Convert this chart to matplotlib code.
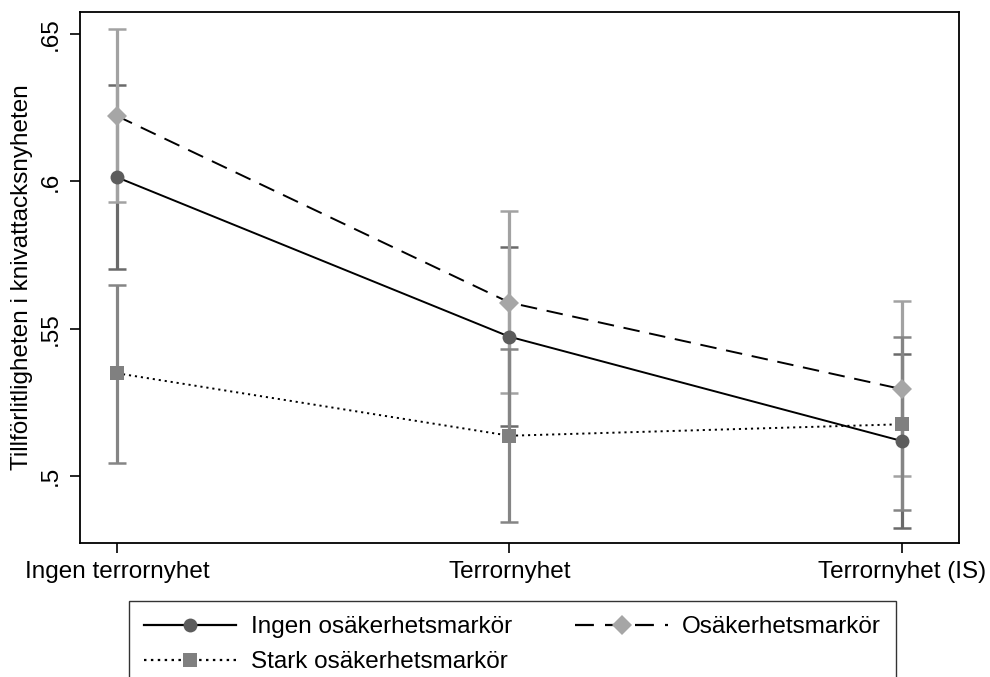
import matplotlib
matplotlib.use("Agg")
import matplotlib.pyplot as plt
from matplotlib.lines import Line2D

plt.rcParams['font.family'] = ['Liberation Sans', 'DejaVu Sans']

categories = ["Ingen terrornyhet", "Terrornyhet", "Terrornyhet (IS)"]
series_names = ["Ingen osäkerhetsmarkör", "Osäkerhetsmarkör", "Stark osäkerhetsmarkör"]
ingen = [0.6014, 0.5473, 0.5119]
ingen_lo = [0.5702, 0.5170, 0.4824]
ingen_hi = [0.6327, 0.5776, 0.5414]
osak = [0.6222, 0.5589, 0.5295]
osak_lo = [0.5931, 0.5281, 0.5001]
osak_hi = [0.6516, 0.5900, 0.5593]
stark = [0.5349, 0.5137, 0.5176]
stark_lo = [0.5046, 0.4843, 0.4884]
stark_hi = [0.5648, 0.5431, 0.5471]

fig = plt.figure(figsize=(9.9, 6.77), dpi=100)
ax = fig.add_axes([80/990, 1-543/677, (959-80)/990, (543-12)/677])

x = list(range(len(categories)))
styles = [
    (ingen, ingen_lo, ingen_hi, '-', 'o', '#5c5c5c', '#6a6a6a', 10),
    (osak, osak_lo, osak_hi, (0, (8.5, 5)), 'D', '#a6a6a6', '#a2a2a2', 10.5),
    (stark, stark_lo, stark_hi, (0, (1.1, 2.0)), 's', '#808080', '#858585', 10),
]
handles = []
for i, (v, lo, hi, ls, mk, mc, ec, ms) in enumerate(styles):
    yerr = [[a - b for a, b in zip(v, lo)], [b - a for a, b in zip(v, hi)]]
    ax.errorbar(x, v, yerr=yerr, fmt='none', ecolor=ec, elinewidth=2.3,
                capsize=6.5, capthick=1.8, zorder=1 + i)
    ax.plot(x, v, linestyle=ls, color='black', linewidth=1.4, zorder=5)
    ax.plot(x, v, linestyle='none', marker=mk, markersize=ms, color=mc,
            markeredgewidth=0, zorder=6)
    handles.append(Line2D([], [], linestyle=ls, color='black', linewidth=1.6,
                          marker=mk, markersize=ms, markerfacecolor=mc,
                          markeredgewidth=0))

ax.set_xlim(-0.0944, 2.1454)
ax.set_ylim(0.4773, 0.6575)
ax.set_xticks(x)
ax.set_xticklabels(categories, fontsize=17.5)
ax.set_yticks([0.5, 0.55, 0.6, 0.65])
ax.set_yticklabels([".5", ".55", ".6", ".65"], fontsize=17.5, rotation=90, va='center')
ax.set_ylabel("Tillförlitligheten i knivattacksnyheten", fontsize=17.5)
ax.yaxis.set_label_coords(-47/879, 0.5)
ax.tick_params(axis='both', direction='out', length=7, width=1.2, pad=6)
for sp in ax.spines.values():
    sp.set_linewidth(1.3)

leg = fig.legend([handles[0], handles[2], handles[1]],
                 [series_names[0], series_names[2], series_names[1]],
                 ncol=2, loc='upper left', bbox_to_anchor=(129/990, 1-601/677),
                 fontsize=17.5, frameon=True, fancybox=False, edgecolor='black',
                 handlelength=3.8, handletextpad=0.6, columnspacing=2.6,
                 borderpad=0.62, labelspacing=0.55, borderaxespad=0)
leg.get_frame().set_linewidth(1.0)

fig.savefig("out.png", dpi=100)
